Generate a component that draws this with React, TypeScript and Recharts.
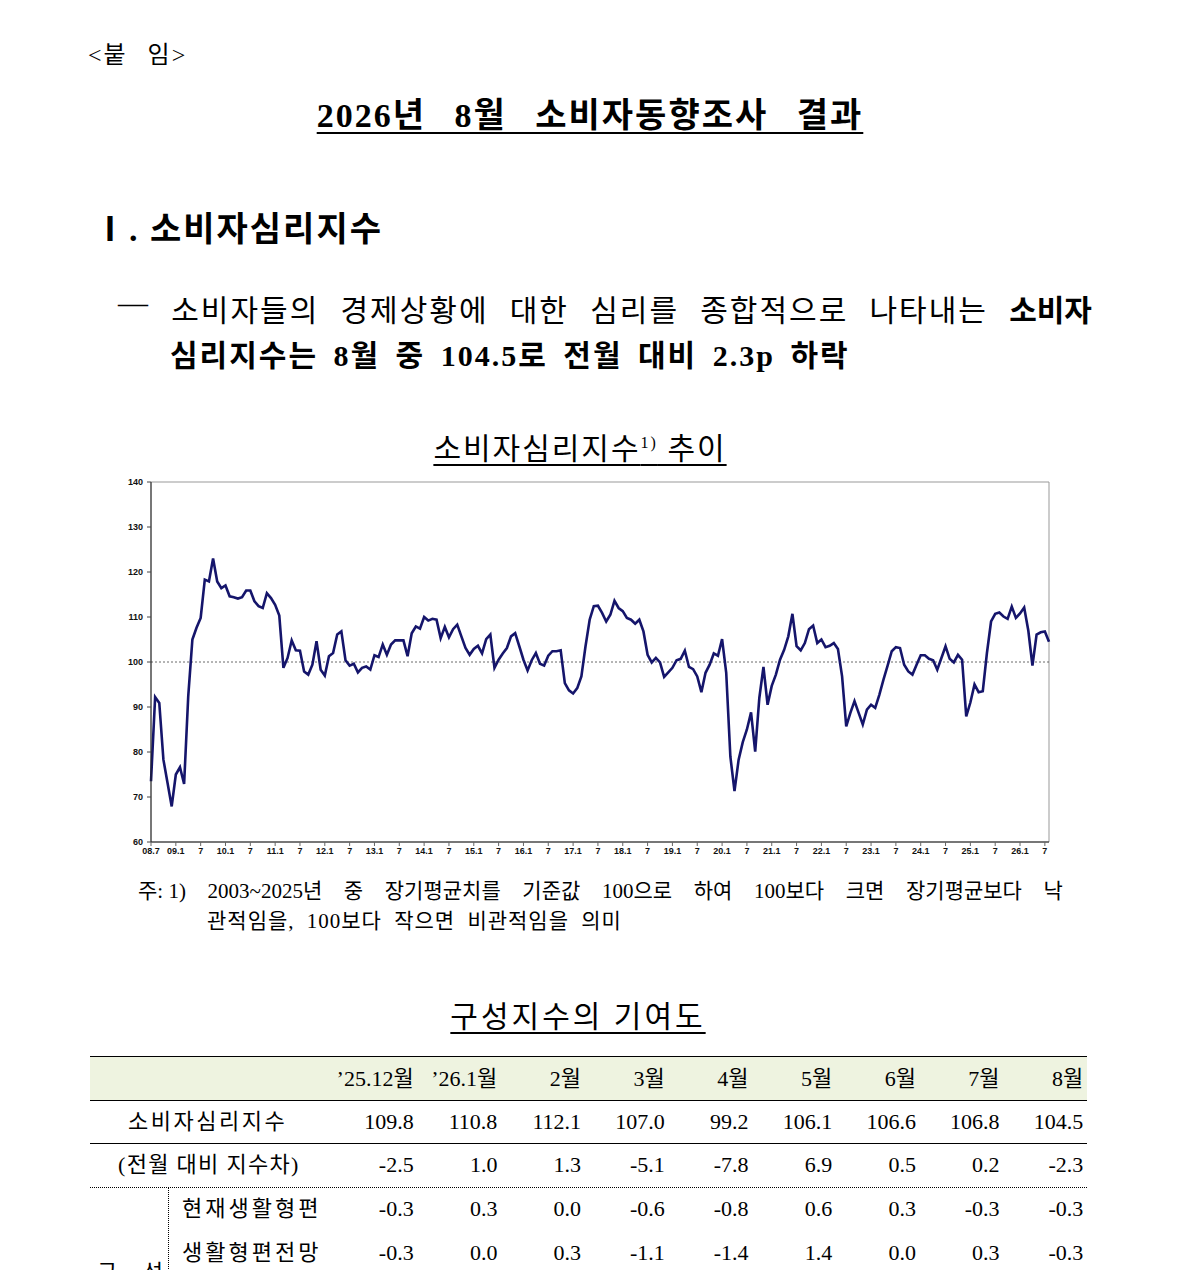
import { LineChart, Line, XAxis, YAxis, ReferenceLine, ReferenceArea } from 'recharts'

// 소비자심리지수 (2008.7 ~ 2026.8)
const csi2008to2011 = [
  73.5, 92.2, 90.9, 78.3, 73.1, 67.9, 75.0, 76.6, 72.9, 92.4, 105.0, 107.6,
  109.8, 118.3, 117.9, 123.0, 117.9, 116.4, 117.0, 114.6, 114.4, 114.1, 114.4, 115.9,
  115.9, 113.5, 112.4, 112.0, 115.3, 114.2, 112.7, 110.3, 98.7, 100.9, 104.8, 102.6,
]
const csi2011to2014 = [
  102.5, 97.9, 97.2, 99.4, 104.6, 98.3, 97.0, 101.3, 102.0, 106.1, 106.8, 100.4,
  99.2, 99.6, 97.7, 98.7, 99.0, 98.3, 101.5, 101.1, 103.9, 101.6, 103.9, 104.8,
  104.8, 104.8, 101.3, 106.4, 107.9, 107.4, 110.0, 109.2, 109.6, 109.4, 105.3, 107.8,
]
const csi2014to2017 = [
  105.5, 107.3, 108.3, 105.7, 103.1, 101.6, 102.9, 103.6, 101.9, 105.1, 106.1, 98.7,
  100.5, 101.9, 103.1, 105.7, 106.4, 103.5, 100.5, 98.1, 100.4, 102.0, 99.6, 99.2,
  101.4, 102.4, 102.4, 102.6, 95.3, 93.7, 93.0, 94.2, 96.8, 103.5, 109.4, 112.4,
]
const csi2017to2020 = [
  112.5, 110.9, 109.0, 110.5, 113.6, 112.0, 111.3, 109.8, 109.4, 108.5, 109.4, 106.8,
  101.6, 99.9, 100.9, 99.9, 96.7, 97.7, 98.7, 100.4, 100.7, 102.5, 98.9, 98.4,
  96.8, 93.3, 97.6, 99.4, 101.9, 101.4, 105.1, 97.6, 79.0, 71.3, 78.3, 82.2,
]
const csi2020to2023 = [
  85.0, 88.8, 80.1, 92.0, 98.9, 90.5, 94.7, 97.2, 100.5, 102.7, 105.7, 110.7,
  103.5, 102.6, 104.2, 107.3, 108.1, 104.2, 105.0, 103.3, 103.6, 104.2, 102.9, 96.8,
  85.7, 88.7, 91.3, 88.7, 86.1, 89.4, 90.5, 89.8, 92.7, 96.1, 99.2, 102.4,
]
const csi2023to2026 = [
  103.3, 103.1, 99.4, 97.9, 97.2, 99.4, 101.5, 101.5, 100.7, 100.4, 98.3, 100.9,
  103.5, 100.7, 99.9, 101.6, 100.5, 87.9, 91.0, 95.0, 93.3, 93.5, 102.0, 109.0,
  110.7, 111.0, 110.1, 109.6, 112.3, 109.8, 110.8, 112.1, 107.0, 99.2, 106.1, 106.6,
  106.8, 104.5,
]

const csiValues = [
  ...csi2008to2011,
  ...csi2011to2014,
  ...csi2014to2017,
  ...csi2017to2020,
  ...csi2020to2023,
  ...csi2023to2026,
]

const START_YEAR = 2008
const START_MONTH = 7
const yTicks = [60, 70, 80, 90, 100, 110, 120, 130, 140]

// 구성지수의 기여도 table
const tableMonths = ['’25.12월', '’26.1월', '2월', '3월', '4월', '5월', '6월', '7월', '8월']
const csiRow = ['109.8', '110.8', '112.1', '107.0', '99.2', '106.1', '106.6', '106.8', '104.5']
const diffRow = ['-2.5', '1.0', '1.3', '-5.1', '-7.8', '6.9', '0.5', '0.2', '-2.3']
const currentLivingRow = ['-0.3', '0.3', '0.0', '-0.6', '-0.8', '0.6', '0.3', '-0.3', '-0.3']
const livingOutlookRow = ['-0.3', '0.0', '0.3', '-1.1', '-1.4', '1.4', '0.0', '0.3', '-0.3']

const chartData = csiValues.map((v, i) => {
  const total = START_MONTH - 1 + i
  const yy = (START_YEAR + Math.floor(total / 12)) % 100
  const mm = (total % 12) + 1
  return { month: `${String(yy).padStart(2, '0')}.${mm}`, csi: v }
})

const FONT = "'Liberation Serif', 'Noto Sans CJK KR', serif"
const AXIS_FONT = "'Liberation Sans', Arial, sans-serif"

function formatTick(label: string, index: number) {
  if (index === 0) return label
  return label.endsWith('.7') ? '7' : label
}

function TableRow({ top, label, labelLeft, labelSpacing = 0, values, height = 44 }: {
  top: number
  label: string
  labelLeft: number
  labelSpacing?: number
  values: string[]
  height?: number
}) {
  return (
    <div style={{ position: 'absolute', left: 90, top, width: 997, height }}>
      <div
        style={{
          position: 'absolute',
          left: labelLeft - 90,
          top: 0,
          lineHeight: `${height}px`,
          whiteSpace: 'nowrap',
          letterSpacing: labelSpacing,
        }}
      >
        {label}
      </div>
      {values.map((v, i) => (
        <div
          key={i}
          style={{
            position: 'absolute',
            left: 240 + i * 83.7,
            width: 83.7,
            top: 0,
            lineHeight: `${height}px`,
            textAlign: 'right',
            whiteSpace: 'nowrap',
          }}
        >
          {v}
        </div>
      ))}
    </div>
  )
}

const underline = { textDecoration: 'underline', textUnderlineOffset: 5, textDecorationThickness: 2 }

export default function App() {
  return (
    <div
      style={{
        position: 'absolute',
        left: 0,
        top: 0,
        width: 1180,
        height: 1270,
        overflow: 'hidden',
        background: '#fff',
        fontFamily: FONT,
        color: '#000',
      }}
    >
      <div style={{ position: 'absolute', left: 88, top: 35, fontSize: 24, letterSpacing: 2, wordSpacing: 12 }}>
        &lt;붙 임&gt;
      </div>

      <div
        style={{
          position: 'absolute',
          left: 0,
          width: 1180,
          top: 88,
          textAlign: 'center',
          fontSize: 34,
          fontWeight: 'bold',
          letterSpacing: 2,
          wordSpacing: 18,
        }}
      >
        <span style={underline}>2026년 8월 소비자동향조사 결과</span>
      </div>

      <div style={{ position: 'absolute', left: 93, top: 202, fontSize: 34, fontWeight: 'bold', letterSpacing: 2 }}>
        Ⅰ. 소비자심리지수
      </div>

      <div
        style={{
          position: 'absolute',
          left: 118,
          top: 286,
          width: 974,
          fontSize: 30,
          letterSpacing: 2,
          whiteSpace: 'nowrap',
          display: 'flex',
          justifyContent: 'space-between',
        }}
      >
        {['—', '소비자들의', '경제상황에', '대한', '심리를', '종합적으로', '나타내는'].map((w) => (
          <span key={w}>{w}</span>
        ))}
        <span style={{ fontWeight: 'bold', letterSpacing: 0 }}>소비자</span>
      </div>
      <div
        style={{
          position: 'absolute',
          left: 170,
          top: 331,
          fontSize: 30,
          fontWeight: 'bold',
          letterSpacing: 2,
          wordSpacing: 6,
        }}
      >
        심리지수는 8월 중 104.5로 전월 대비 2.3p 하락
      </div>

      <div
        style={{
          position: 'absolute',
          left: 0,
          width: 1160,
          top: 424,
          textAlign: 'center',
          fontSize: 30,
          letterSpacing: 2,
        }}
      >
        <span style={underline}>
          소비자심리지수<sup style={{ fontSize: 16 }}>1)</sup> 추이
        </span>
      </div>

      <div style={{ position: 'absolute', left: 100, top: 470 }}>
        <LineChart width={960} height={400} data={chartData} margin={{ top: 12, right: 11, bottom: 8, left: 0 }}>
          <XAxis
            dataKey="month"
            interval={5}
            tickFormatter={formatTick}
            tick={{ fontSize: 9, fontWeight: 'bold', fill: '#111', fontFamily: AXIS_FONT }}
            tickSize={4}
            tickMargin={2}
            height={20}
            axisLine={{ stroke: '#222' }}
            tickLine={{ stroke: '#666' }}
          />
          <YAxis
            domain={[60, 140]}
            ticks={yTicks}
            width={51}
            tick={{ fontSize: 9, fontWeight: 'bold', fill: '#111', fontFamily: AXIS_FONT }}
            tickSize={4}
            tickMargin={4}
            axisLine={{ stroke: '#222' }}
            tickLine={{ stroke: '#444' }}
          />
          <ReferenceArea
            x1={chartData[0].month}
            x2={chartData[chartData.length - 1].month}
            y1={60}
            y2={140}
            fill="none"
            stroke="#999"
            strokeWidth={1}
            ifOverflow="visible"
          />
          <ReferenceLine y={100} stroke="#444" strokeDasharray="2 2" strokeWidth={0.8} />
          <Line
            type="linear"
            dataKey="csi"
            stroke="#15156b"
            strokeWidth={2.6}
            dot={false}
            isAnimationActive={false}
          />
        </LineChart>
      </div>

      <div
        style={{
          position: 'absolute',
          left: 138,
          top: 874,
          width: 925,
          fontSize: 21,
          display: 'flex',
          justifyContent: 'space-between',
          whiteSpace: 'nowrap',
        }}
      >
        {['주: 1)', '2003~2025년', '중', '장기평균치를', '기준값', '100으로', '하여', '100보다', '크면', '장기평균보다', '낙'].map(
          (w) => (
            <span key={w}>{w}</span>
          )
        )}
      </div>
      <div style={{ position: 'absolute', left: 207, top: 904, fontSize: 21, letterSpacing: 1, wordSpacing: 6 }}>
        관적임을, 100보다 작으면 비관적임을 의미
      </div>

      <div
        style={{
          position: 'absolute',
          left: 0,
          width: 1156,
          top: 992,
          textAlign: 'center',
          fontSize: 30,
          letterSpacing: 3,
        }}
      >
        <span style={underline}>구성지수의 기여도</span>
      </div>

      <div style={{ fontSize: 22 }}>
        <div
          style={{
            position: 'absolute',
            left: 90,
            top: 1056,
            width: 997,
            height: 44,
            background: '#eef3e0',
            borderTop: '1.5px solid #000',
          }}
        />
        <div style={{ position: 'absolute', left: 90, top: 1100, width: 997, borderTop: '1.5px solid #000' }} />
        <div style={{ position: 'absolute', left: 90, top: 1143, width: 997, borderTop: '1.5px solid #000' }} />
        <div style={{ position: 'absolute', left: 90, top: 1187, width: 997, borderTop: '1px dotted #000' }} />
        <div style={{ position: 'absolute', left: 168, top: 1187, height: 100, borderLeft: '1px dotted #000' }} />

        <TableRow top={1057} label="" labelLeft={100} values={tableMonths} />
        <TableRow top={1100} label="소비자심리지수" labelLeft={128} labelSpacing={2.5} values={csiRow} />
        <TableRow top={1143} label="(전월 대비 지수차)" labelLeft={118} labelSpacing={1.3} values={diffRow} />
        <TableRow top={1187} label="현재생활형편" labelLeft={182} labelSpacing={3} values={currentLivingRow} />
        <TableRow top={1231} label="생활형편전망" labelLeft={182} labelSpacing={3} values={livingOutlookRow} />
        <div style={{ position: 'absolute', left: 97, top: 1254, fontSize: 22, wordSpacing: 20 }}>구 성</div>
      </div>
    </div>
  )
}
